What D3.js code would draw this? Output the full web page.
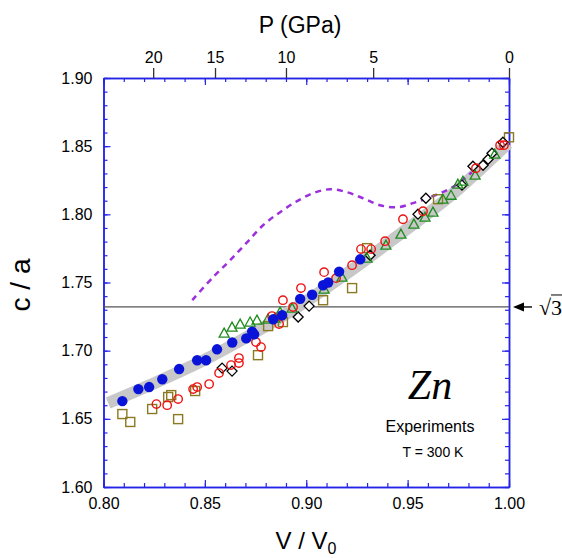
<!DOCTYPE html>
<html>
<head>
<meta charset="utf-8">
<script src="https://cdn.jsdelivr.net/npm/d3@7"></script>
<style>
  body { margin: 0; background: #fff; }
  svg { display: block; font-family: "Liberation Sans", Arial, Helvetica, sans-serif; }
</style>
</head>
<body>
<svg id="chart" width="562" height="558"></svg>
<script>
// data (V/V0, c/a)
const blueX = [0.8093,0.8172,0.8225,0.829,0.8373,0.8462,0.8506,0.856,0.8635,0.8704,0.8733,0.8743,0.8837,0.8881,0.897,0.9029,0.9083,0.9108,0.9162,0.9266];
const blueY = [1.663,1.6718,1.6733,1.679,1.6865,1.693,1.693,1.701,1.706,1.709,1.714,1.712,1.723,1.726,1.738,1.741,1.748,1.750,1.758,1.767];

const redX = [0.8261,0.8314,0.8368,0.8442,0.8462,0.8521,0.857,0.8629,0.8668,0.8668,0.8752,0.8777,0.8831,0.8866,0.8885,0.8935,0.8974,0.9088,0.9147,0.9226,0.927,0.932,0.9389,0.9477,0.9576,0.9837,0.9956,0.9975];
const redY = [1.6608,1.660,1.6645,1.6718,1.6733,1.6755,1.6836,1.6894,1.6909,1.6946,1.7063,1.7026,1.7254,1.7195,1.737,1.732,1.7459,1.7576,1.7532,1.7627,1.7745,1.7745,1.7803,1.7964,1.8023,1.8338,1.8507,1.8507];

const greenX = [0.8595,0.8634,0.8674,0.8723,0.8757,0.8811,0.8846,0.8871,0.893,0.9088,0.9176,0.93,0.9393,0.9467,0.9531,0.9586,0.9625,0.9674,0.9714,0.9748,0.9773,0.9833,0.993];
const greenY = [1.7129,1.7173,1.7195,1.721,1.7224,1.7232,1.7239,1.7283,1.7312,1.7451,1.7539,1.7679,1.7774,1.7855,1.7928,1.7979,1.8016,1.8111,1.814,1.8221,1.8243,1.8287,1.8441];

const diamondX = [0.8585,0.8634,0.896,0.9014,0.9315,0.9551,0.959,0.9768,0.9822,0.9872,0.9897,0.9916,0.997];
const diamondY = [1.6872,1.685,1.7247,1.7327,1.77,1.8001,1.8118,1.8214,1.8353,1.836,1.8404,1.8448,1.8529];

const squareX = [0.8093,0.8132,0.824,0.8319,0.8334,0.8368,0.8452,0.8762,0.8812,0.8885,0.9083,0.9226,0.93,0.965,1.0];
const squareY = [1.6535,1.6477,1.6572,1.666,1.6674,1.6498,1.6704,1.6967,1.718,1.721,1.737,1.7459,1.7752,1.8111,1.8565];

// gray guide band
const bandX = [0.8023,0.823,0.8477,0.8723,0.897,0.9216,0.9463,0.9709,0.9995];
const bandY = [1.6616,1.6748,1.6917,1.7114,1.7334,1.7583,1.7855,1.8133,1.8521];

// purple dashed theory curve
const theoryX = [0.8438,0.8541,0.8625,0.8709,0.8787,0.8871,0.8955,0.9034,0.9117,0.9201,0.928,0.9364,0.9448,0.9527,0.961,0.9694,0.9758,0.9817];
const theoryY = [1.7371,1.754,1.7664,1.7796,1.792,1.8016,1.8097,1.8155,1.8184,1.8162,1.8118,1.8067,1.8052,1.8082,1.8126,1.8177,1.8236,1.8309];

// pressure axis on top
const pressureLabels = [20, 15, 10, 5, 0];
const pressureAt = [0.8245, 0.855, 0.890, 0.933, 1.0];

const xMajor = [0.80, 0.85, 0.90, 0.95, 1.00];
const yMajor = [1.60, 1.65, 1.70, 1.75, 1.80, 1.85, 1.90];
const sqrt3 = Math.sqrt(3);

// plot box
const padL = 103.5, padR = 509, padT = 78, padB = 487;
const axisColor = "#2424e8";

const x = d3.scaleLinear().domain([0.8, 1.0]).range([padL, padR]);
const y = d3.scaleLinear().domain([1.6, 1.9]).range([padB, padT]);

const svg = d3.select("#chart");

const xMinor = d3.range(0, 21).map(i => 0.80 + i * 0.01);
const yMinor = d3.range(0, 31).map(i => 1.60 + i * 0.01);

// style helper for the blue frame axes
function blue(g) {
  g.select(".domain").attr("stroke", axisColor).attr("stroke-width", 1.5);
  g.selectAll(".tick line").attr("stroke", axisColor).attr("stroke-width", 1.2);
  g.selectAll(".tick text").attr("fill", "#000").attr("font-size", 16);
}

// bottom axis
svg.append("g").attr("transform", `translate(0,${padB})`)
  .call(d3.axisBottom(x).tickValues(xMinor).tickFormat("").tickSizeInner(-4).tickSizeOuter(0)).call(blue);
svg.append("g").attr("transform", `translate(0,${padB})`)
  .call(d3.axisBottom(x).tickValues(xMajor).tickFormat(d3.format(".2f")).tickSizeInner(-7).tickSizeOuter(0).tickPadding(11)).call(blue);

// top axis (blue inward ticks)
svg.append("g").attr("transform", `translate(0,${padT})`)
  .call(d3.axisTop(x).tickValues(xMinor).tickFormat("").tickSizeInner(-4).tickSizeOuter(0)).call(blue);
svg.append("g").attr("transform", `translate(0,${padT})`)
  .call(d3.axisTop(x).tickValues(xMajor).tickFormat("").tickSizeInner(-7).tickSizeOuter(0)).call(blue);

// pressure ticks outward on top
const pAxis = svg.append("g").attr("transform", `translate(0,${padT})`)
  .call(d3.axisTop(x).tickValues(pressureAt).tickFormat((d, i) => pressureLabels[i]).tickSizeInner(10).tickSizeOuter(0).tickPadding(5));
pAxis.select(".domain").remove();
pAxis.selectAll(".tick line").attr("stroke", "#333").attr("stroke-width", 1.3);
pAxis.selectAll(".tick text").attr("fill", "#000").attr("font-size", 16);

// left axis
svg.append("g").attr("transform", `translate(${padL},0)`)
  .call(d3.axisLeft(y).tickValues(yMinor).tickFormat("").tickSizeInner(-4).tickSizeOuter(0)).call(blue);
svg.append("g").attr("transform", `translate(${padL},0)`)
  .call(d3.axisLeft(y).tickValues(yMajor).tickFormat(d3.format(".2f")).tickSizeInner(-7).tickSizeOuter(0).tickPadding(11)).call(blue);

// right axis
svg.append("g").attr("transform", `translate(${padR},0)`)
  .call(d3.axisRight(y).tickValues(yMinor).tickFormat("").tickSizeInner(-4).tickSizeOuter(0)).call(blue);
svg.append("g").attr("transform", `translate(${padR},0)`)
  .call(d3.axisRight(y).tickValues(yMajor).tickFormat("").tickSizeInner(-7).tickSizeOuter(0)).call(blue);

// sqrt(3) reference line
svg.append("line")
  .attr("x1", padL).attr("x2", padR)
  .attr("y1", y(sqrt3)).attr("y2", y(sqrt3))
  .attr("stroke", "#555").attr("stroke-width", 1.2);

// arrow and label
const ay = y(sqrt3);
svg.append("line").attr("x1", padR + 12).attr("x2", padR + 23).attr("y1", ay).attr("y2", ay)
  .attr("stroke", "#000").attr("stroke-width", 1.4);
svg.append("path")
  .attr("d", `M${padR + 4},${ay} L${padR + 15},${ay - 4.5} L${padR + 15},${ay + 4.5} Z`)
  .attr("fill", "#000");
svg.append("text").attr("x", padR + 30).attr("y", ay + 8)
  .attr("font-family", "Liberation Serif, Times New Roman, serif").attr("font-size", 22)
  .text("\u221A3");
svg.append("line").attr("x1", padR + 42).attr("x2", padR + 53).attr("y1", ay - 12).attr("y2", ay - 12)
  .attr("stroke", "#000").attr("stroke-width", 1);

// gray band
const line = d3.line().curve(d3.curveCatmullRom);
svg.append("path")
  .attr("d", line(bandX.map((v, i) => [x(v), y(bandY[i])])))
  .attr("fill", "none").attr("stroke", "#c8c8c8").attr("stroke-width", 12);

// theory curve
svg.append("path")
  .attr("d", line(theoryX.map((v, i) => [x(v), y(theoryY[i])])))
  .attr("fill", "none").attr("stroke", "#9b30dc").attr("stroke-width", 2.5)
  .attr("stroke-dasharray", "6,5");

// markers
const zip = (a, b) => a.map((v, i) => [v, b[i]]);

svg.append("g").selectAll("rect").data(zip(squareX, squareY)).join("rect")
  .attr("x", d => x(d[0]) - 4.5).attr("y", d => y(d[1]) - 4.5)
  .attr("width", 9).attr("height", 9)
  .attr("fill", "none").attr("stroke", "#8b7a22").attr("stroke-width", 1.4);

svg.append("g").selectAll("path").data(zip(diamondX, diamondY)).join("path")
  .attr("transform", d => `translate(${x(d[0])},${y(d[1])})`)
  .attr("d", "M0,-5 L5,0 L0,5 L-5,0 Z")
  .attr("fill", "#fff").attr("stroke", "#000").attr("stroke-width", 1.3);

svg.append("g").selectAll("path").data(zip(greenX, greenY)).join("path")
  .attr("transform", d => `translate(${x(d[0])},${y(d[1])})`)
  .attr("d", "M0,-5 L5,4 L-5,4 Z")
  .attr("fill", "none").attr("stroke", "#1e8c1e").attr("stroke-width", 1.3);

svg.append("g").selectAll("circle").data(zip(redX, redY)).join("circle")
  .attr("cx", d => x(d[0])).attr("cy", d => y(d[1])).attr("r", 4.2)
  .attr("fill", "none").attr("stroke", "#ee1111").attr("stroke-width", 1.4);

svg.append("g").selectAll("circle").data(zip(blueX, blueY)).join("circle")
  .attr("cx", d => x(d[0])).attr("cy", d => y(d[1])).attr("r", 5.2)
  .attr("fill", "#0a14d8");

// titles
svg.append("text").attr("x", 300).attr("y", 33).attr("text-anchor", "middle")
  .attr("font-size", 23).text("P (GPa)");

svg.append("text").attr("transform", "translate(30,285) rotate(-90)")
  .attr("text-anchor", "middle").attr("font-size", 28).text("c / a");

const xt = svg.append("text").attr("x", 306).attr("y", 549).attr("text-anchor", "middle").attr("font-size", 24);
xt.append("tspan").text("V / V");
xt.append("tspan").attr("font-size", 16).attr("dy", 5).text("0");

// annotation
svg.append("text").attr("x", 430).attr("y", 399).attr("text-anchor", "middle")
  .attr("font-family", "Liberation Serif, Times New Roman, serif").attr("font-style", "italic")
  .attr("font-size", 42).text("Zn");
svg.append("text").attr("x", 430).attr("y", 432).attr("text-anchor", "middle")
  .attr("font-size", 16).text("Experiments");
svg.append("text").attr("x", 433).attr("y", 457).attr("text-anchor", "middle")
  .attr("font-size", 14).text("T = 300 K");
</script>
</body>
</html>
